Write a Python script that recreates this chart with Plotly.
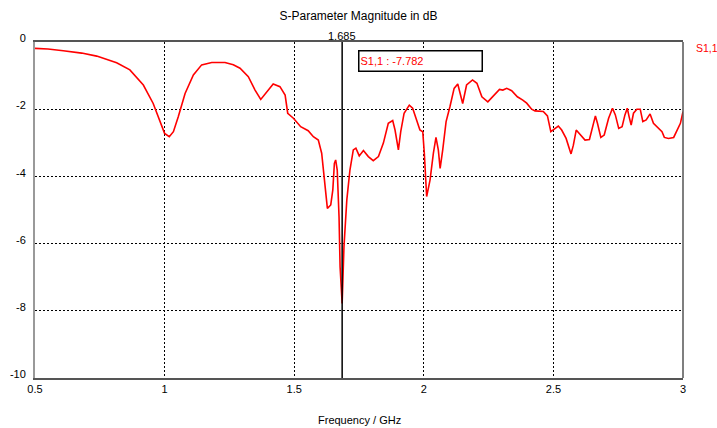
import plotly.graph_objects as go

# S1,1 magnitude sweep (GHz, dB)
freq_ghz = [
    0.500, 0.550, 0.609, 0.680, 0.738, 0.815, 0.866, 0.918, 0.956, 0.982,
    1.000, 1.018, 1.034, 1.053, 1.079, 1.111, 1.143, 1.182, 1.233, 1.265,
    1.291, 1.323, 1.349, 1.371, 1.394, 1.419, 1.445, 1.465, 1.475, 1.497,
    1.525, 1.554, 1.574, 1.593, 1.606, 1.616, 1.628, 1.641, 1.649, 1.655,
    1.660, 1.666, 1.673, 1.677, 1.685, 1.692, 1.703, 1.715, 1.728, 1.738,
    1.751, 1.767, 1.786, 1.805, 1.825, 1.844, 1.863, 1.880, 1.889, 1.902,
    1.911, 1.924, 1.944, 1.957, 1.973, 1.985, 1.996, 2.002, 2.011, 2.024,
    2.037, 2.047, 2.056, 2.063, 2.073, 2.086, 2.101, 2.117, 2.131, 2.140,
    2.150, 2.165, 2.188, 2.205, 2.224, 2.247, 2.269, 2.292, 2.305, 2.320,
    2.339, 2.361, 2.382, 2.397, 2.416, 2.429, 2.461, 2.477, 2.490, 2.507,
    2.519, 2.532, 2.549, 2.568, 2.577, 2.588, 2.606, 2.622, 2.639, 2.652,
    2.662, 2.670, 2.683, 2.696, 2.713, 2.728, 2.739, 2.752, 2.765, 2.776,
    2.785, 2.792, 2.800, 2.809, 2.822, 2.835, 2.845, 2.858, 2.873, 2.886,
    2.906, 2.919, 2.928, 2.944, 2.964, 2.977, 2.990, 3.000,
]
s11_db = [
    -0.19, -0.21, -0.26, -0.33, -0.42, -0.62, -0.83, -1.28, -1.83, -2.37,
    -2.72, -2.82, -2.67, -2.22, -1.53, -0.98, -0.68, -0.61, -0.61, -0.68,
    -0.78, -1.03, -1.43, -1.71, -1.48, -1.25, -1.33, -1.58, -2.12, -2.27,
    -2.52, -2.64, -2.82, -2.92, -3.31, -4.01, -4.95, -4.85, -4.40, -3.61,
    -3.51, -3.81, -5.20, -6.69, -7.782, -6.09, -4.70, -3.81, -3.21, -3.16,
    -3.39, -3.23, -3.41, -3.53, -3.41, -3.01, -2.42, -2.34, -2.62, -3.21,
    -2.67, -2.12, -1.88, -1.97, -2.37, -2.62, -2.67, -3.31, -4.60, -4.11,
    -3.31, -2.84, -3.21, -3.76, -3.21, -2.37, -1.92, -1.38, -1.25, -1.53,
    -1.83, -1.28, -1.13, -1.23, -1.63, -1.78, -1.61, -1.41, -1.43, -1.38,
    -1.45, -1.63, -1.73, -1.82, -2.00, -2.05, -2.07, -2.20, -2.67, -2.57,
    -2.50, -2.62, -2.87, -3.33, -3.07, -2.62, -2.77, -2.92, -2.90, -2.52,
    -2.20, -2.42, -2.84, -2.77, -2.27, -1.97, -2.17, -2.57, -2.52, -2.17,
    -1.97, -2.22, -2.47, -2.12, -2.00, -2.00, -2.37, -2.32, -2.14, -2.42,
    -2.57, -2.67, -2.84, -2.87, -2.84, -2.62, -2.42, -2.07,
]

x_ticks = [0.5, 1, 1.5, 2, 2.5, 3]
x_tick_text = ["0.5", "1", "1.5", "2", "2.5", "3"]
y_ticks = [0, -2, -4, -6, -8, -10]
y_tick_text = ["0", "-2", "-4", "-6", "-8", "-10"]

marker_freq = 1.685
marker_val = s11_db[freq_ghz.index(marker_freq)]

RED = "#ff0000"
FONT = "Liberation Sans"

fig = go.Figure()
fig.add_trace(go.Scatter(
    x=freq_ghz, y=s11_db, mode="lines", name="S1,1",
    line=dict(color=RED, width=1.6), showlegend=False,
))

fig.update_layout(
    width=717, height=428,
    margin=dict(l=35, r=34, t=42, b=50),
    plot_bgcolor="white", paper_bgcolor="white",
    font=dict(family=FONT, size=11, color="#000"),
    title=dict(text="S-Parameter Magnitude in dB", x=0.5, xanchor="center",
               y=1 - 16 / 428, yanchor="middle", yref="container",
               font=dict(family=FONT, size=12, color="#000")),
    xaxis=dict(
        range=[0.5, 3], tickvals=x_ticks, ticktext=x_tick_text,
        showgrid=True, gridcolor="#000", griddash="2px,2px", gridwidth=1,
        showline=True, linecolor="#555", linewidth=1.5, mirror=True,
        zeroline=False, ticks="", tickfont=dict(size=11), automargin=False,
    ),
    yaxis=dict(
        range=[-10, 0], tickvals=y_ticks, ticktext=y_tick_text,
        showgrid=True, gridcolor="#000", griddash="2px,2px", gridwidth=1,
        showline=True, linecolor="#999", linewidth=2, mirror=False,
        zeroline=False, ticks="", ticklabelposition="outside top",
        ticklabelshift=4, ticklabelstandoff=5, automargin=False,
        tickfont=dict(size=11),
    ),
    shapes=[
        # right border of the plot frame
        dict(type="line", xref="paper", yref="paper", x0=1, x1=1, y0=0, y1=1,
             line=dict(color="#555", width=1.5)),
        # marker line
        dict(type="line", xref="x", yref="paper", x0=marker_freq, x1=marker_freq,
             y0=0, y1=1, line=dict(color="#000", width=1.5)),
    ],
    annotations=[
        dict(text="Frequency / GHz", xref="paper", yref="paper", x=0.5, y=0,
             yshift=-42, showarrow=False, xanchor="center", yanchor="middle",
             font=dict(size=11)),
        dict(text=f"{marker_freq:.3f}", xref="x", yref="paper", x=marker_freq, y=1,
             yshift=6, showarrow=False, xanchor="center", yanchor="middle",
             font=dict(size=11)),
        dict(text=f"S1,1 : {marker_val:.3f}", xref="x", yref="paper", x=1.746,
             y=(428 - 50 - 60.5) / 336, showarrow=False,
             xanchor="left", yanchor="middle", align="left",
             width=120, height=17, borderpad=1,
             bordercolor="#000", borderwidth=1.5, bgcolor="white",
             font=dict(size=11, color=RED)),
        dict(text="S1,1", xref="paper", yref="paper", x=1, y=1, xshift=11,
             yshift=-6, showarrow=False, xanchor="left", yanchor="middle",
             font=dict(size=10.5, color=RED)),
    ],
)

fig.write_html("out.html")
